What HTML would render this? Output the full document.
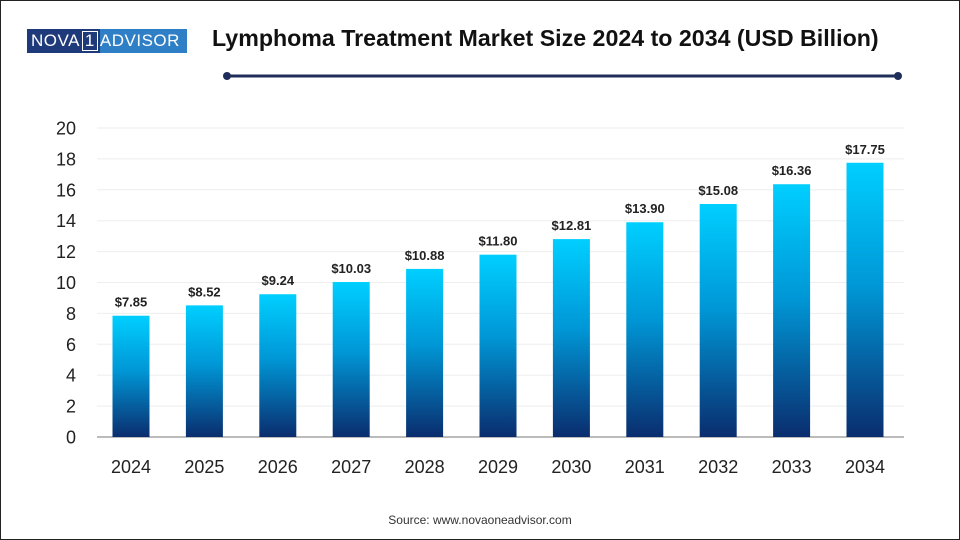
<!DOCTYPE html>
<html><head><meta charset="utf-8"><style>
body{margin:0;background:#fff}
#wrap{position:relative;width:958px;height:538px;border:1px solid #222;background:#fff;font-family:"Liberation Sans",sans-serif;overflow:hidden}
#logo{position:absolute;left:26px;top:28px;width:160px;height:24px;background:#1f3a7a;display:flex;align-items:center;color:#fff;font-size:17px;letter-spacing:0.5px}
#logo .l{padding-left:4px}
#logo .one{border:1px solid #fff;padding:0 2px;margin:0 2px;line-height:18px}
#logo .r{background:#2e7fc6;height:24px;line-height:24px;padding-right:4px;flex:1}
#title{position:absolute;left:211px;top:24px;font-size:23.2px;font-weight:bold;color:#111}
#src{position:absolute;left:0;width:958px;top:512px;text-align:center;font-size:12px;color:#333}
</style></head><body>
<div id="wrap">
<div id="logo"><span class="l">NOVA</span><span class="one">1</span><span class="r">ADVISOR</span></div>
<div id="title">Lymphoma Treatment Market Size 2024 to 2034 (USD Billion)</div>
<svg width="958" height="538" style="position:absolute;left:0;top:0" id="svg">
<defs><linearGradient id="g" x1="0" y1="0" x2="0" y2="1"><stop offset="0" stop-color="#00cfff"/><stop offset="0.45" stop-color="#0097d6"/><stop offset="1" stop-color="#0a2d6e"/></linearGradient></defs>
<line x1="226" y1="75" x2="897" y2="75" stroke="#1f2d5a" stroke-width="3"/>
<circle cx="226" cy="75" r="4" fill="#1f2d5a"/><circle cx="897" cy="75" r="4" fill="#1f2d5a"/>
<g id="plot"></g>
</svg>
<div id="src">Source: www.novaoneadvisor.com</div>
</div>
<script>
const categories=["2024","2025","2026","2027","2028","2029","2030","2031","2032","2033","2034"];
const values=[7.85,8.52,9.24,10.03,10.88,11.80,12.81,13.90,15.08,16.36,17.75];
const valueLabels=["$7.85","$8.52","$9.24","$10.03","$10.88","$11.80","$12.81","$13.90","$15.08","$16.36","$17.75"];
const yTicks=[0,2,4,6,8,10,12,14,16,18,20];
const ns="http://www.w3.org/2000/svg";
const g=document.getElementById('plot');
const y=v=>436-v*(436-127)/20;
const x=i=>130+i*73.4;
const bw=37;
function mk(t,a){const e=document.createElementNS(ns,t);for(const k in a)e.setAttribute(k,a[k]);g.appendChild(e);return e;}
yTicks.forEach(t=>{
 const l=mk('line',{x1:96,x2:903,y1:y(t),y2:y(t),stroke:t===0?'#bbb':'#eee','stroke-width':t===0?2:1});
 
 
 const tx=mk('text',{x:75,y:y(t)+6.5,'text-anchor':'end','font-size':18,fill:'#222'});
 tx.textContent=t;
 
 
});
categories.forEach((c,i)=>{
 const r=mk('rect',{x:x(i)-bw/2,y:y(values[i]),width:bw,height:y(0)-y(values[i]),fill:'url(#g)'});
 
 
 const v=mk('text',{x:x(i),y:y(values[i])-9,'text-anchor':'middle','font-size':13,'font-weight':'bold',fill:'#222'});
 v.textContent=valueLabels[i];
 
 
 const xl=mk('text',{x:x(i),y:472,'text-anchor':'middle','font-size':18,fill:'#222'});
 xl.textContent=c;
 
 
});
</script>
</body></html>
